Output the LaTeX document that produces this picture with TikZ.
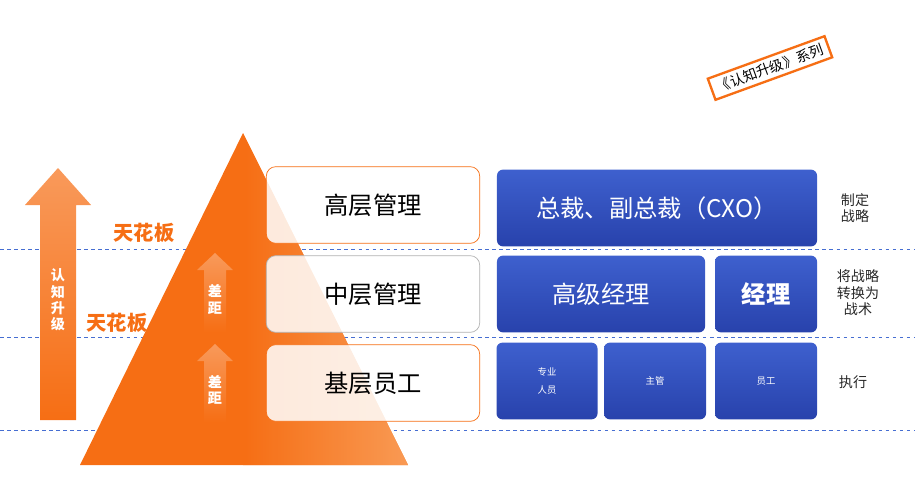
\documentclass[tikz,border=0pt]{standalone}
\usepackage{fontspec}
\setmainfont{Noto Sans CJK SC}
\usetikzlibrary{arrows.meta,positioning}
\definecolor{cgorange}{RGB}{246,110,20}
\definecolor{cglight}{RGB}{250,165,100}
\definecolor{cgblue}{RGB}{62,96,206}
\definecolor{cgdark}{RGB}{40,66,172}
\definecolor{cgline}{RGB}{70,110,210}
\tikzset{
  levelbox/.style={draw=cgorange, fill=white, fill opacity=0.85, text opacity=1, rounded corners=8pt, line width=0.6pt, font=\huge, minimum width=6.4cm, minimum height=2.3cm},
  rolebox/.style={top color=cgblue, bottom color=cgdark, draw=none, rounded corners=5pt, text=white, minimum height=2.3cm},
  arrowfill/.style={top color=cgorange!70, bottom color=cgorange, draw=none},
  tasklabel/.style={font=\large, align=center, text=black!85},
}
\begin{document}
\begin{tikzpicture}[x=0.03cm, y=-0.03cm]
\useasboundingbox (0,0) rectangle (915,494);
% dashed level lines
\foreach \yy in {249,337,430} {
  \draw[cgline, dashed, line width=0.5pt] (0,\yy) -- (915,\yy);
}
% pyramid
\fill[cgorange] (243,133) -- (408,465) -- (80,465) -- cycle;
\shade[left color=cgorange, right color=cglight, opacity=0.8] (243,133) -- (408,465) -- (243,465) -- cycle;
% cognitive upgrade arrow
\shade[arrowfill] (40,420) -- (40,205) -- (25,205) -- (58,168) -- (91,205) -- (76,205) -- (76,420) -- cycle;
\node[text=white, font=\large\bfseries, align=center] (uplbl) at (58,300) {认\\知\\升\\级};
% ceilings
\node[text=cgorange, font=\LARGE\bfseries] (ceil1) at (144,233) {天花板};
\node[text=cgorange, font=\LARGE\bfseries] (ceil2) at (117,323) {天花板};
% gap arrows
\foreach \yt/\yb/\nm in {253/332/gap1, 344/422/gap2} {
  \shade[arrowfill] (204,\yb) -- (204,\yt+17) -- (197,\yt+17) -- (215,\yt) -- (233,\yt+17) -- (226,\yt+17) -- (226,\yb) -- cycle;
  \node[text=white, font=\large\bfseries, align=center] (\nm) at (215,{(\yt+\yb)/2+7}) {差\\距};
}
% level boxes
\node[levelbox] (top) at (373,205) {高层管理};
\node[levelbox, draw=black!30] (mid) at (373,294) {中层管理};
\node[levelbox] (base) at (373,383) {基层员工};
% role boxes
\node[rolebox, minimum width=9.6cm, font=\huge] (cxo) at (657,208) {总裁、副总裁（CXO）};
\node[rolebox, minimum width=6.24cm, font=\huge] (senior) at (601,294) {高级经理};
\node[rolebox, minimum width=3.06cm, font=\huge\bfseries] (mgr) at (766,294) {经理};
\node[rolebox, minimum width=3.03cm, font=\footnotesize, align=center] (pro) at (547,381) {专业\\[6pt]人员};
\node[rolebox, minimum width=3.06cm, font=\footnotesize] (lead) at (655,381) {主管};
\node[rolebox, minimum width=3.06cm, font=\footnotesize] (staff) at (766,381) {员工};
% tasks
\node[tasklabel] (t1) at (855,208) {制定\\战略};
\node[tasklabel] (t2) at (858,293) {将战略\\转换为\\战术};
\node[tasklabel] (t3) at (853,382) {执行};
% series stamp
\node[draw=cgorange, line width=2pt, fill=white, rotate=20, font=\large, inner xsep=5pt, inner ysep=4pt] (stamp) at (770,68) {《认知升级》系列};
\end{tikzpicture}
\end{document}
